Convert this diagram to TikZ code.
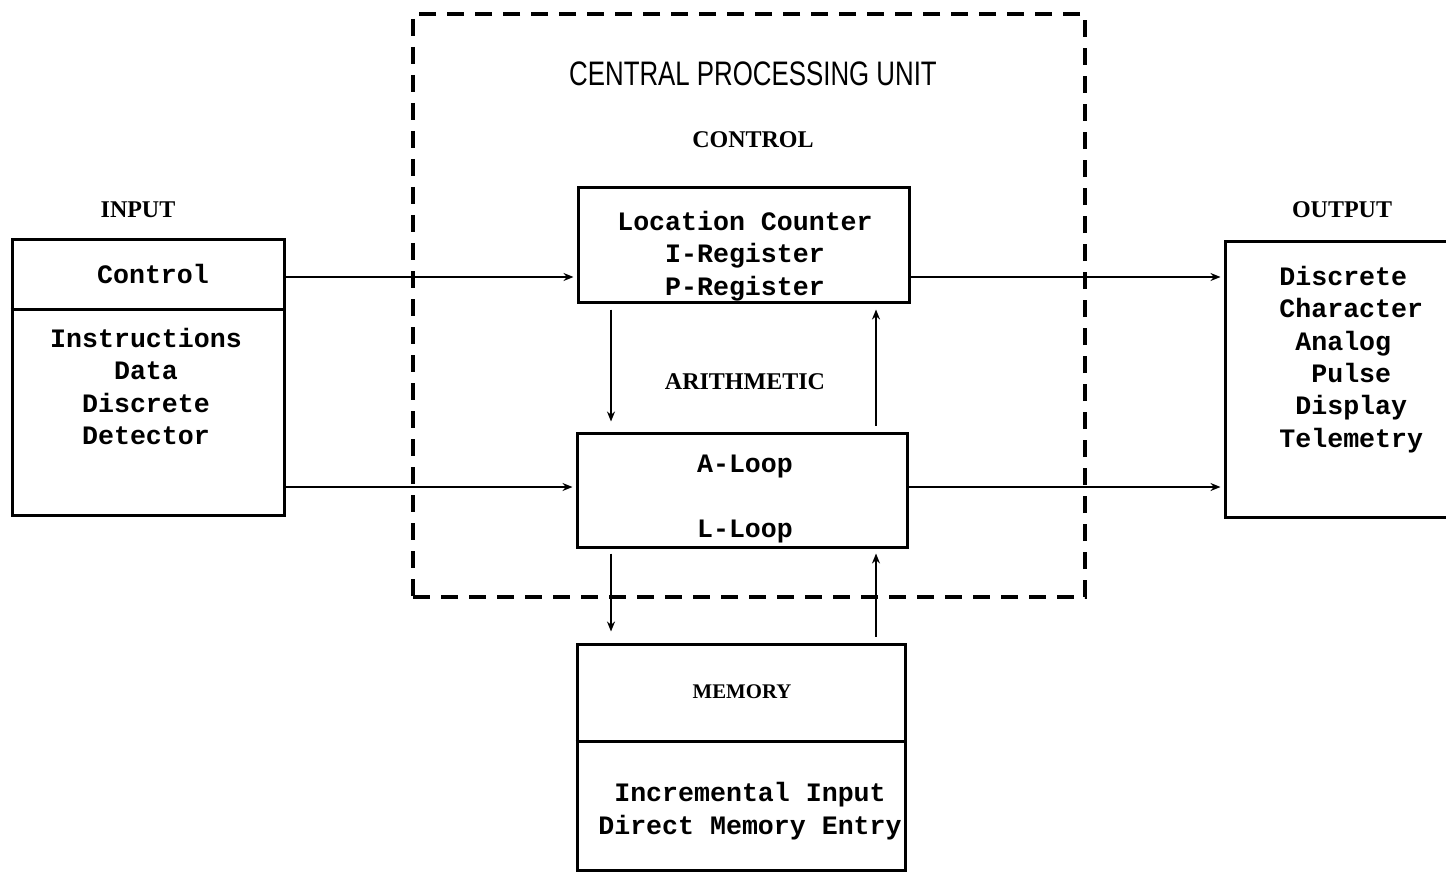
\documentclass[tikz,border=0pt]{standalone}
\usepackage{fontspec}
\setmainfont{Liberation Serif}
\newfontfamily\monofnt{Liberation Mono}
\newfontfamily\sansfnt{Liberation Sans}
\usetikzlibrary{arrows.meta}
\begin{document}
\begin{tikzpicture}[x=0.5pt,y=-0.5pt,
  box/.style={draw, line width=1.5pt, inner sep=0pt},
  body/.style={font=\monofnt\bfseries\fontsize{13.3}{16.15}\selectfont, align=center, inner sep=0pt},
  head/.style={font=\bfseries\fontsize{12}{14}\selectfont, inner sep=0pt},
  conn/.style={line width=0.9pt, -{Stealth[length=5pt,width=4pt]}},
  cpu/.style={draw, line width=1.6pt, dash pattern=on 8.5pt off 5.5pt, inner sep=0pt}]
\useasboundingbox (0,0) rectangle (1446,872);
\fill[white] (0,0) rectangle (1446,872);

% CPU dashed frame
\node[cpu, minimum width=336pt, minimum height=291.5pt] (cpubox) at (749,305.5) {};
\node[inner sep=0pt] (cputitle) at (753,74) {\scalebox{0.76}[1]{\sansfnt\fontsize{17}{20}\selectfont CENTRAL PROCESSING UNIT}};
\node[head] (controllbl) at (753,140) {CONTROL};
\node[head] (arithlbl) at (745,382) {ARITHMETIC};

% boxes
\node[box, minimum width=136pt, minimum height=138pt] (inp) at (148,377) {};
\draw[line width=1.5pt] (inp.west |- 0,309) coordinate (inpdl) -- (inp.east |- inpdl);
\node[head] (inplbl) at (138,210) {INPUT};
\node[body] (inpctl) at (153,274) {Control};
\node[body] (inptxt) at (146,386.5) {Instructions\\Data\\Discrete\\Detector};

\node[box, minimum width=165.5pt, minimum height=57.5pt] (ctrl) at (743.5,244.5) {};
\node[body] (ctrltxt) at (745,256) {Location Counter\\I-Register\\P-Register};

\node[box, minimum width=165pt, minimum height=57pt] (arith) at (742,490) {};
\node[body] (aloop) at (745,466) {A-Loop};
\node[body] (lloop) at (745,531) {L-Loop};

\node[box, minimum width=113.5pt, minimum height=138pt] (out) at (1338.5,379) {};
\node[head] (outlbl) at (1342,210) {OUTPUT};
\node[body, align=left, anchor=north west] (outtxt) at (1279,266) {Discrete\\Character\\\hspace*{0.6em}Analog\\\hspace*{1.2em}Pulse\\\hspace*{0.6em}Display\\Telemetry};

\node[box, minimum width=164pt, minimum height=113pt] (mem) at (741,757) {};
\draw[line width=1.5pt] (mem.west |- 0,741) coordinate (memdl) -- (mem.east |- memdl);
\node[head, font=\bfseries\fontsize{10.4}{13}\selectfont] (memlbl) at (742,692) {MEMORY};
\node[body] (memtxt) at (750,811) {Incremental Input\\Direct Memory Entry};

% connector rows / columns
\coordinate (rowA) at (0,277);
\coordinate (rowB) at (0,487);
\coordinate (colL) at (611,0);
\coordinate (colR) at (876,0);

\draw[conn] (inp.east |- rowA) -- ([xshift=-1.5pt]ctrl.west |- rowA);
\draw[conn] (inp.east |- rowB) -- ([xshift=-1.5pt]arith.west |- rowB);
\draw[conn] (ctrl.east |- rowA) -- ([xshift=-1.5pt]out.west |- rowA);
\draw[conn] (arith.east |- rowB) -- ([xshift=-1.5pt]out.west |- rowB);

\draw[conn] ([yshift=-3pt]ctrl.south -| colL) -- ([yshift=5pt]arith.north -| colL);
\draw[conn] ([yshift=3pt]arith.north -| colR) -- ([yshift=-3pt]ctrl.south -| colR);
\draw[conn] ([yshift=-2.5pt]arith.south -| colL) -- ([yshift=5.5pt]mem.north -| colL);
\draw[conn] ([yshift=3pt]mem.north -| colR) -- ([yshift=-2.5pt]arith.south -| colR);
\end{tikzpicture}
\end{document}
